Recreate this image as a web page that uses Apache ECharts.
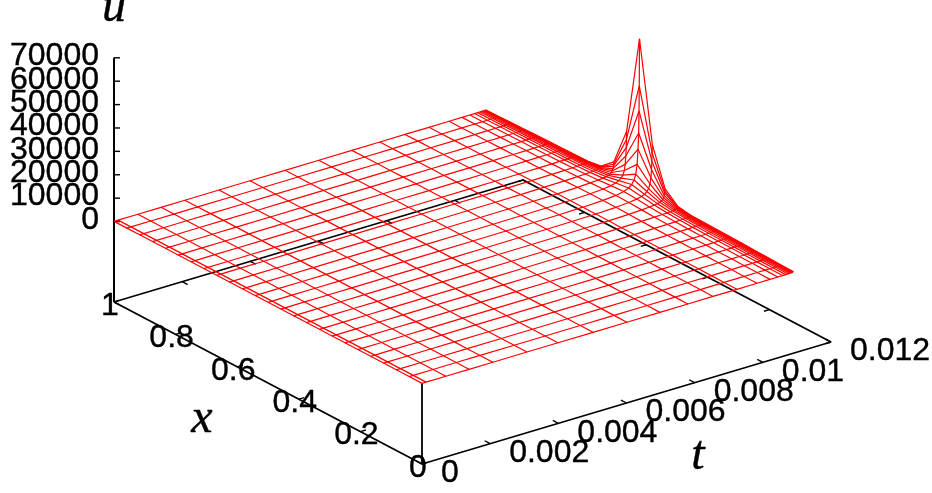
<!DOCTYPE html>
<html>
<head>
<meta charset="utf-8">
<style>
html, body { margin: 0; padding: 0; background: #fff; }
#myChart { width: 932px; height: 493px; }
</style>
<script src="https://cdn.jsdelivr.net/npm/echarts@6/dist/echarts.min.js"></script>
</head>
<body>
<div id="myChart"></div>
<script>
// axis ticks
const uTicks = [0, 10000, 20000, 30000, 40000, 50000, 60000, 70000]
const xTicks = [0, 0.2, 0.4, 0.6, 0.8, 1]
const tTicks = [0, 0.002, 0.004, 0.006, 0.008, 0.01, 0.012]
const uFloor = -34400
const tMax = 0.012

// mesh lines
const xValues = [0, 0.0417, 0.0833, 0.125, 0.1667, 0.2083, 0.25, 0.2917, 0.3333, 0.375, 0.4167, 0.4583, 0.5,
  0.5417, 0.5833, 0.625, 0.6667, 0.7083, 0.75, 0.7917, 0.8333, 0.875, 0.9167, 0.9583, 1]
const tValues = [0, 0.00012, 0.0007, 0.00138, 0.00208, 0.00308, 0.00399, 0.00502, 0.00601, 0.00698, 0.0078, 0.00854, 0.00924,
  0.00983, 0.01021, 0.01044, 0.01058, 0.01067, 0.01074, 0.01079, 0.01083,
  0.010857, 0.010875, 0.010886, 0.010893, 0.0109]

// u per t row, from the centre x=0.5 out to the edge (surface is symmetric in x)
const uRows = [
  [92, 92, 92, 92, 92, 92, 92, 91, 91, 90, 88, 84, 70],
  [93, 93, 93, 93, 93, 93, 92, 92, 91, 90, 88, 84, 70],
  [98, 98, 98, 98, 98, 97, 97, 96, 95, 94, 92, 86, 70],
  [105, 105, 105, 104, 104, 104, 103, 102, 100, 98, 95, 89, 72],
  [113, 113, 113, 112, 112, 111, 111, 109, 107, 104, 100, 93, 74],
  [128, 128, 127, 127, 126, 125, 124, 121, 118, 113, 107, 98, 78],
  [145, 145, 144, 143, 142, 141, 139, 135, 130, 123, 115, 104, 82],
  [170, 170, 169, 168, 165, 162, 159, 153, 146, 136, 125, 111, 86],
  [205, 204, 203, 200, 196, 190, 185, 176, 165, 152, 137, 120, 92],
  [255, 253, 250, 245, 238, 228, 219, 205, 188, 170, 151, 130, 98],
  [320, 317, 310, 300, 286, 269, 257, 236, 212, 187, 165, 142, 105],
  [425, 418, 403, 380, 352, 322, 305, 273, 240, 209, 182, 157, 115],
  [600, 582, 545, 495, 438, 385, 361, 315, 270, 230, 200, 172, 125],
  [930, 875, 760, 640, 525, 440, 415, 355, 300, 255, 222, 187, 135],
  [1420, 1270, 1000, 780, 610, 490, 460, 390, 325, 275, 238, 198, 145],
  [2100, 1730, 1220, 900, 680, 540, 495, 420, 350, 295, 255, 210, 155],
  [2985, 2250, 1450, 1010, 740, 585, 530, 450, 375, 315, 270, 222, 165],
  [4080, 2850, 1680, 1120, 800, 625, 565, 480, 400, 335, 290, 235, 175],
  [5700, 3650, 1920, 1220, 860, 675, 605, 510, 430, 360, 310, 250, 185],
  [8000, 4700, 2240, 1340, 920, 725, 650, 550, 460, 390, 330, 270, 195],
  [12000, 6500, 2750, 1470, 990, 785, 710, 600, 500, 425, 360, 290, 210],
  [18400, 9000, 3400, 1600, 1060, 840, 760, 640, 540, 460, 385, 315, 225],
  [25200, 12500, 4200, 1750, 1150, 900, 820, 700, 590, 500, 420, 340, 245],
  [34600, 16000, 5200, 1900, 1250, 1000, 880, 760, 650, 550, 465, 375, 270],
  [45300, 19500, 6000, 2100, 1350, 1100, 920, 800, 690, 590, 500, 410, 310],
  [65400, 23000, 7000, 2300, 1500, 1400, 1250, 1150, 1000, 850, 700, 550, 400]
]

// gnuplot style oblique view: (x, t, u) -> position on the flat axes
function project (x, t, u) {
  const k = t / tMax
  return [422 + k * 409 - x * 308, 464 - k * 122 - x * 162 - (u - uFloor) * 0.002339]
}

function uAt (i, j) {
  return uRows[i][Math.abs(j - 12)]
}

function lineSeries (data, color, width) {
  return {
    type: 'line',
    data: data,
    showSymbol: false,
    silent: true,
    animation: false,
    lineStyle: { color: color, width: width }
  }
}

function labelSeries (data, align, font) {
  return {
    type: 'scatter',
    data: data,
    symbolSize: 1,
    silent: true,
    animation: false,
    // scatter defaults to opacity 0.8, which greys the labels too
    itemStyle: { color: 'transparent', opacity: 1 },
    label: {
      show: true,
      position: 'inside',
      align: align,
      verticalAlign: 'middle',
      color: '#000',
      textBorderColor: '#000',
      textBorderWidth: 0.4,
      fontFamily: font.family,
      fontSize: font.size,
      fontStyle: font.style,
      formatter: function (p) { return p.value[2] }
    }
  }
}

const series = []
const black = '#000'

// base frame
series.push(lineSeries([
  project(1, 0, uFloor), project(0, 0, uFloor), project(0, tMax, uFloor),
  project(1, tMax, uFloor), project(1, 0, uFloor)
], black, 1.8))
// vertical axes
series.push(lineSeries([project(1, 0, uFloor), project(1, 0, 70000)], black, 2))
series.push(lineSeries([project(0, 0, uFloor), project(0, 0, 0)], black, 1.8))
// ticks
uTicks.forEach(function (u) {
  const p = project(1, 0, u)
  series.push(lineSeries([p, [p[0] + 6, p[1]]], black, 1.4))
})
tTicks.forEach(function (t) {
  series.push(lineSeries([project(0, t, uFloor), project(0.018, t, uFloor)], black, 1.4))
  series.push(lineSeries([project(1, t, uFloor), project(0.982, t, uFloor)], black, 1.4))
})
xTicks.forEach(function (x) {
  series.push(lineSeries([project(x, 0, uFloor), project(x, 0.00016, uFloor)], black, 1.4))
  series.push(lineSeries([project(x, tMax, uFloor), project(x, tMax - 0.00016, uFloor)], black, 1.4))
})

// the surface: one line per t, one line per x
tValues.forEach(function (t, i) {
  series.push(lineSeries(xValues.map(function (x, j) {
    return project(x, t, uAt(i, j))
  }), '#ff0000', 1.2))
})
xValues.forEach(function (x, j) {
  series.push(lineSeries(tValues.map(function (t, i) {
    return project(x, t, uAt(i, j))
  }), '#ff0000', 1.2))
})

// tick labels
const tickFont = { family: '"Liberation Sans", Arial, sans-serif', size: 32 }
series.push(labelSeries(uTicks.map(function (u) {
  const p = project(1, 0, u)
  return [p[0] - 15, p[1] - 1.5, String(u)]
}), 'right', tickFont))
series.push(labelSeries(xTicks.map(function (x) {
  const p = project(x, 0, uFloor)
  return [p[0] - 4, p[1] + 4, String(x)]
}), 'center', tickFont))
series.push(labelSeries(tTicks.map(function (t) {
  const p = project(0, t, uFloor)
  return [p[0] + 19, p[1] + 9.5, String(t)]
}), 'left', tickFont))

// axis names
const nameFont = { family: '"Liberation Serif", serif', size: 48, style: 'italic' }
series.push(labelSeries([[114, 8, 'u'], [202, 419, 'x'], [698, 456, 't']], 'center', nameFont))

const myChart = echarts.init(document.getElementById('myChart'))
myChart.setOption({
  animation: false,
  backgroundColor: '#fff',
  grid: { left: 0, top: 0, width: 932, height: 493 },
  xAxis: { type: 'value', min: 0, max: 932, show: false },
  yAxis: { type: 'value', min: 0, max: 493, inverse: true, show: false },
  series: series
})
</script>
</body>
</html>
